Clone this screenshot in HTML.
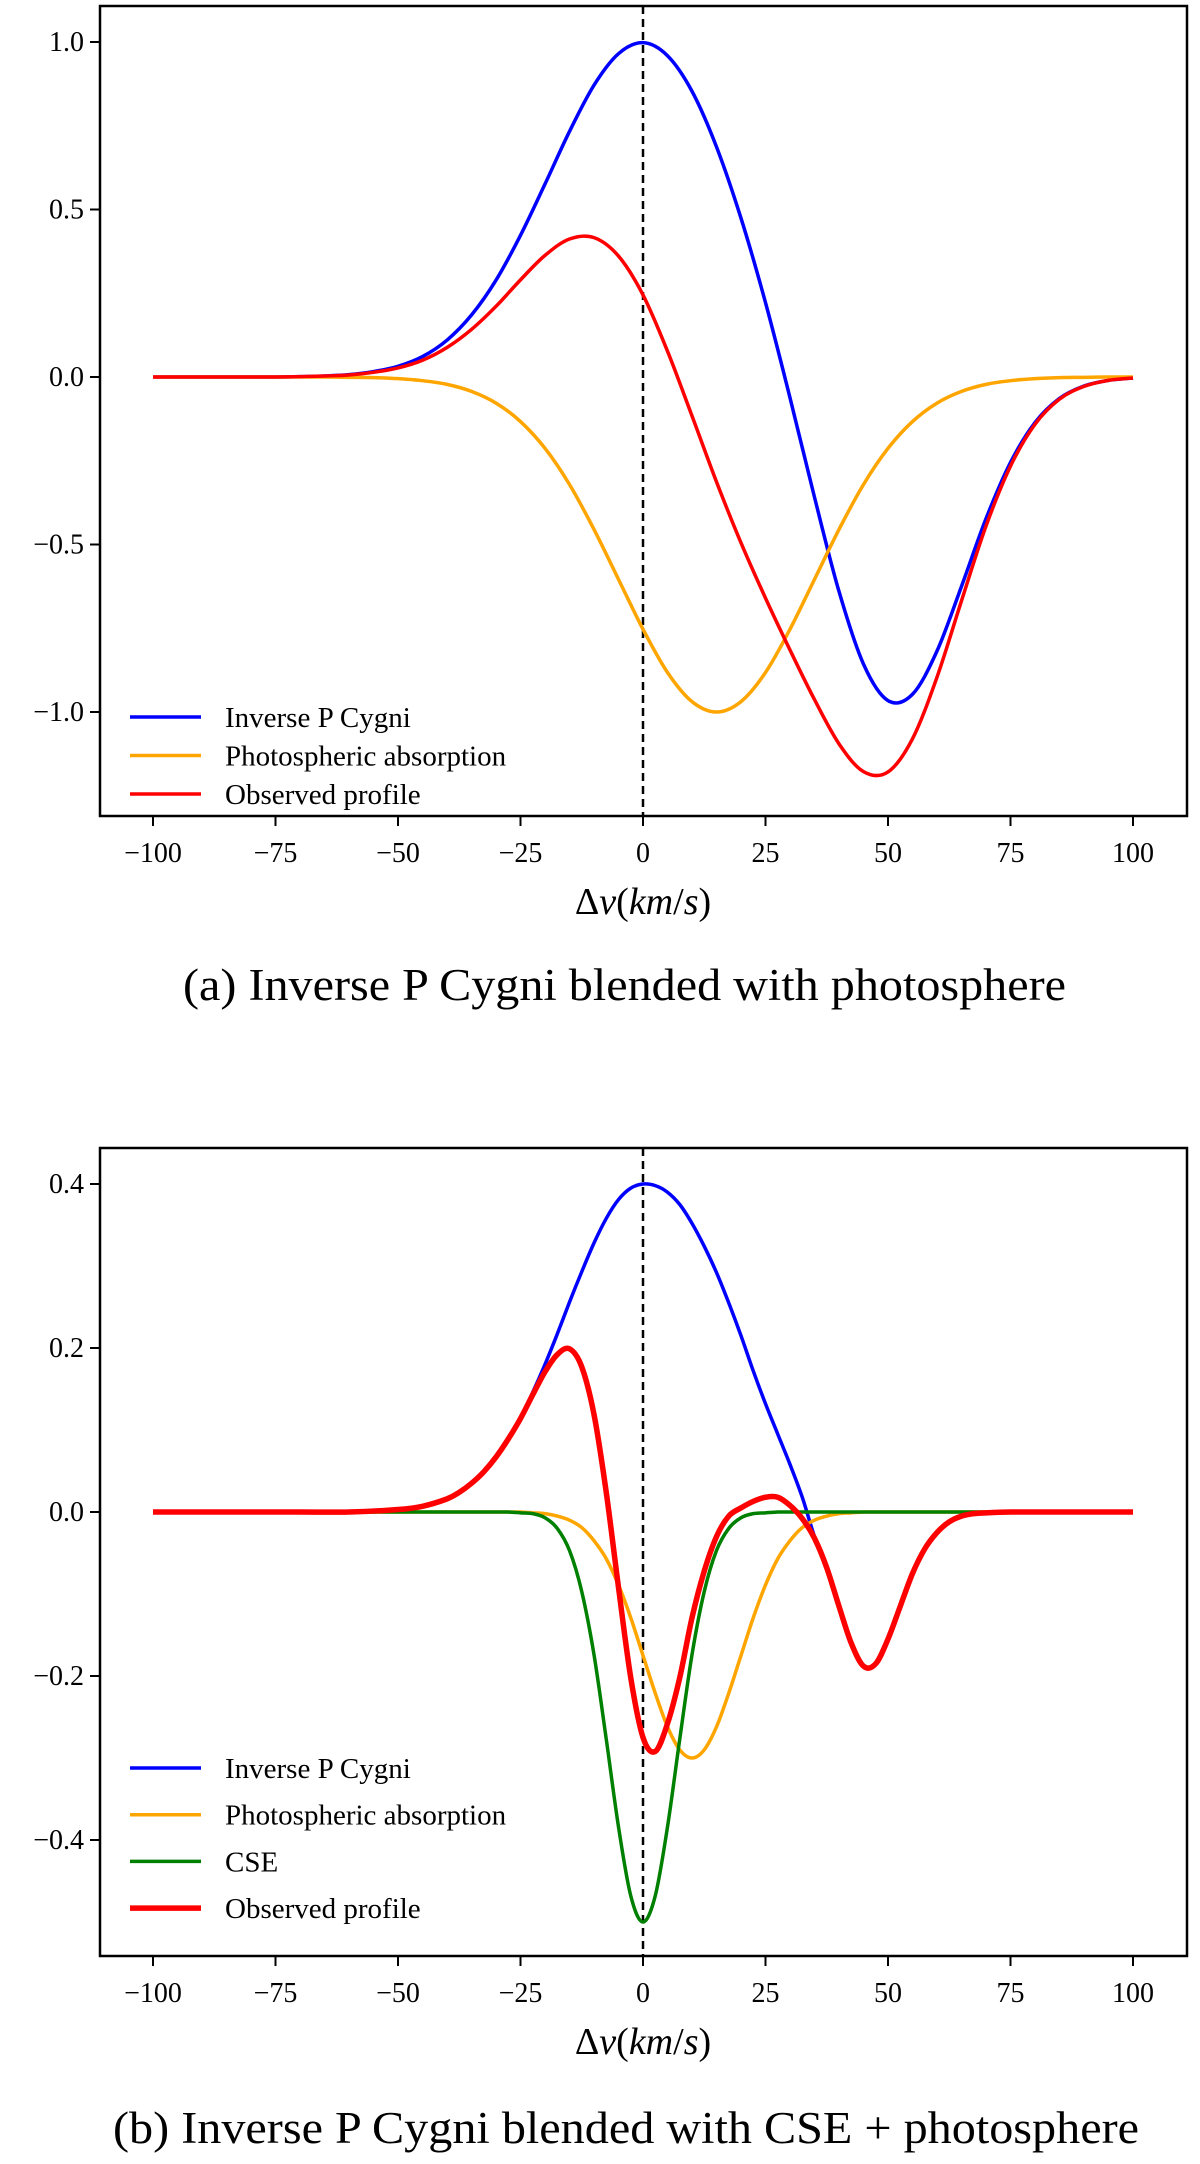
<!DOCTYPE html>
<html><head><meta charset="utf-8"><style>
html,body{margin:0;padding:0;background:#fff;}
svg{display:block;font-family:"Liberation Serif",serif;}
</style></head><body>
<svg id="fig" width="1200" height="2164" viewBox="0 0 1200 2164"></svg>
<script>
// ---- Panel (a) data ----
const xA = [-100,-95,-90,-85,-80,-75,-70,-65,-60,-55,-50,-45,-40,-35,-30,-25,-20,-15,-10,-5,0,5,10,15,20,25,30,35,40,45,50,55,60,65,70,75,80,85,90,95,100];
const blueA = [0,0,0,0,0,0,0.001,0.003,0.007,0.016,0.032,0.061,0.110,0.185,0.289,0.423,0.576,0.733,0.871,0.965,0.998,0.959,0.853,0.687,0.474,0.222,-0.062,-0.359,-0.640,-0.857,-0.966,-0.947,-0.818,-0.625,-0.423,-0.255,-0.136,-0.064,-0.027,-0.010,-0.003];
const orangeA = [0,0,0,0,0,0,0,0,-0.001,-0.002,-0.005,-0.011,-0.022,-0.043,-0.078,-0.133,-0.213,-0.321,-0.455,-0.604,-0.753,-0.882,-0.969,-1.0,-0.969,-0.882,-0.753,-0.604,-0.455,-0.321,-0.213,-0.133,-0.078,-0.043,-0.022,-0.011,-0.005,-0.002,-0.001,0,0];
const redA = [0,0,0,0,0,0,0.001,0.003,0.006,0.014,0.027,0.050,0.088,0.142,0.211,0.290,0.363,0.412,0.416,0.361,0.245,0.077,-0.116,-0.313,-0.495,-0.660,-0.815,-0.963,-1.095,-1.178,-1.179,-1.080,-0.896,-0.668,-0.445,-0.266,-0.141,-0.066,-0.028,-0.010,-0.003];
const yTicksA = [1.0,0.5,0.0,-0.5,-1.0];
const yTickLabelsA = ["1.0","0.5","0.0","\u22120.5","\u22121.0"];
// ---- Panel (b) data ----
const xB = [-100,-90,-80,-70,-60,-50,-45,-40,-37.5,-35,-32.5,-30,-27.5,-25,-22.5,-20,-17.5,-15,-12.5,-10,-7.5,-5,-2.5,0,2.5,5,7.5,10,12.5,15,17.5,20,22.5,25,27.5,30,32.5,35,37.5,40,42.5,45,47.5,50,52.5,55,57.5,60,62.5,65,67.5,70,75,80,90,100];
const blueB = [0,0,0,0,0,0.003,0.007,0.016,0.024,0.035,0.049,0.067,0.089,0.115,0.146,0.180,0.217,0.256,0.293,0.328,0.358,0.381,0.395,0.400,0.398,0.390,0.375,0.352,0.324,0.292,0.255,0.215,0.172,0.132,0.095,0.058,0.018,-0.030,-0.068,-0.115,-0.160,-0.188,-0.185,-0.155,-0.115,-0.075,-0.045,-0.025,-0.012,-0.005,-0.002,-0.001,0,0,0,0];
const orangeB = [0,0,0,0,0,0,0,0,0,0,0,0,0,0,-0.001,-0.002,-0.005,-0.010,-0.019,-0.035,-0.057,-0.089,-0.129,-0.175,-0.221,-0.262,-0.290,-0.300,-0.290,-0.262,-0.221,-0.175,-0.129,-0.089,-0.057,-0.035,-0.019,-0.010,-0.005,-0.002,-0.001,0,0,0,0,0,0,0,0,0,0,0,0,0,0,0];
const greenB = [0,0,0,0,0,0,0,0,0,0,0,0,0,-0.001,-0.002,-0.007,-0.020,-0.047,-0.097,-0.174,-0.277,-0.384,-0.468,-0.500,-0.468,-0.384,-0.277,-0.174,-0.097,-0.047,-0.020,-0.007,-0.002,-0.001,0,0,0,0,0,0,0,0,0,0,0,0,0,0,0,0,0,0,0,0,0,0];
const redB = [0,0,0,0,0,0.003,0.007,0.016,0.024,0.035,0.049,0.067,0.089,0.114,0.143,0.171,0.192,0.199,0.177,0.119,0.024,-0.092,-0.202,-0.275,-0.292,-0.258,-0.202,-0.129,-0.072,-0.030,-0.005,0.005,0.013,0.018,0.018,0.008,-0.008,-0.032,-0.068,-0.115,-0.160,-0.188,-0.185,-0.155,-0.115,-0.075,-0.045,-0.025,-0.012,-0.005,-0.002,-0.001,0,0,0,0];
const yTicksB = [0.4,0.2,0.0,-0.2,-0.4];
const yTickLabelsB = ["0.4","0.2","0.0","\u22120.2","\u22120.4"];
const xTicks = [-100,-75,-50,-25,0,25,50,75,100];
const xTickLabels = ["\u2212100","\u221275","\u221250","\u221225","0","25","50","75","100"];

const NS="http://www.w3.org/2000/svg";
const svg=document.getElementById('fig');
function mk(tag,attrs,parent){const e=document.createElementNS(NS,tag);for(const k in attrs)e.setAttribute(k,attrs[k]);(parent||svg).appendChild(e);return e;}
function smoothPath(xs,ys,X,Y){
  const p=xs.map((x,i)=>[X(x),Y(ys[i])]);
  let d='M'+p[0][0].toFixed(2)+','+p[0][1].toFixed(2);
  for(let i=0;i<p.length-1;i++){
    const p0=p[Math.max(0,i-1)],p1=p[i],p2=p[i+1],p3=p[Math.min(p.length-1,i+2)];
    const c1=[p1[0]+(p2[0]-p0[0])/6,p1[1]+(p2[1]-p0[1])/6];
    const c2=[p2[0]-(p3[0]-p1[0])/6,p2[1]-(p3[1]-p1[1])/6];
    d+=' C'+c1[0].toFixed(2)+','+c1[1].toFixed(2)+' '+c2[0].toFixed(2)+','+c2[1].toFixed(2)+' '+p2[0].toFixed(2)+','+p2[1].toFixed(2);
  }
  return d;
}
function panel(cfg){
  const g=mk('g',{});
  
  
  const X=v=>643+4.9*v;
  const Y=v=>cfg.y0-cfg.ys*v;
  const clipId='clip'+cfg.key;
  const cp=mk('clipPath',{id:clipId},g);
  mk('rect',{x:100,y:cfg.top,width:1087,height:cfg.bottom-cfg.top},cp);
  cfg.yt.forEach((v,i)=>{
    const t=mk('line',{x1:90,x2:100,y1:Y(v),y2:Y(v),stroke:'#000','stroke-width':2},g);
    
    
    const l=mk('text',{x:84,y:Y(v)+9,'text-anchor':'end','font-size':28},g);
    
    
    l.textContent=cfg.ytl[i];
  });
  xTicks.forEach((v,i)=>{
    const t=mk('line',{x1:X(v),x2:X(v),y1:cfg.bottom,y2:cfg.bottom+10,stroke:'#000','stroke-width':2},g);
    
    
    const l=mk('text',{x:X(v),y:cfg.bottom+46,'text-anchor':'middle','font-size':28},g);
    
    
    l.textContent=xTickLabels[i];
  });
  const dl=mk('line',{x1:X(0),x2:X(0),y1:cfg.top,y2:cfg.bottom,stroke:'#000','stroke-width':2.5,'stroke-dasharray':'8,5'},g);
  
  
  cfg.series.forEach(s=>{
    const p=mk('path',{d:smoothPath(cfg.xs,s.data,X,Y),fill:'none',stroke:s.color,'stroke-width':s.w,'stroke-linejoin':'round','clip-path':'url(#'+clipId+')'},g);
    
    
  });
  const fr=mk('rect',{x:100,y:cfg.top,width:1087,height:cfg.bottom-cfg.top,fill:'none',stroke:'#000','stroke-width':2.5},g);
  
  
  const lg=mk('g',{},g);
  
  
  cfg.legend.forEach((e,i)=>{
    const y=cfg.legY+i*cfg.legDy;
    const ln=mk('line',{x1:130,x2:201,y1:y,y2:y,stroke:e.color,'stroke-width':e.w},lg);
    
    
    const t=mk('text',{x:225,y:y+10,'font-size':29},lg);
    
    
    t.textContent=e.label;
  });
  const xt=mk('text',{x:643,y:cfg.bottom+98,'text-anchor':'middle','font-size':38},g);
  
  
  xt.innerHTML='\u0394<tspan font-style="italic">v</tspan>(<tspan font-style="italic">km</tspan>/<tspan font-style="italic">s</tspan>)';
  const cap=mk('text',{x:cfg.capX,y:cfg.capY,'font-size':45,textLength:cfg.capW,lengthAdjust:'spacingAndGlyphs'},g);
  
  
  cap.textContent=cfg.caption;
}
panel({key:'a',name:'panel-a-chart',top:6,bottom:816,y0:377,ys:335,xs:xA,yt:yTicksA,ytl:yTickLabelsA,
  series:[{name:'inverse-p-cygni-line',data:blueA,color:'#0000ff',w:3.5},{name:'photospheric-absorption-line',data:orangeA,color:'#ffa500',w:3.5},{name:'observed-profile-line',data:redA,color:'#ff0000',w:3.5}],
  legend:[{label:'Inverse P Cygni',color:'#0000ff',w:3.5},{label:'Photospheric absorption',color:'#ffa500',w:3.5},{label:'Observed profile',color:'#ff0000',w:3.5}],
  legY:717,legDy:38.5,caption:'(a) Inverse P Cygni blended with photosphere',capX:183,capY:1000,capW:883});
panel({key:'b',name:'panel-b-chart',top:1148,bottom:1956,y0:1512,ys:820,xs:xB,yt:yTicksB,ytl:yTickLabelsB,
  series:[{name:'inverse-p-cygni-line',data:blueB,color:'#0000ff',w:3.5},{name:'photospheric-absorption-line',data:orangeB,color:'#ffa500',w:3.5},{name:'cse-line',data:greenB,color:'#008000',w:3.5},{name:'observed-profile-line',data:redB,color:'#ff0000',w:5.5}],
  legend:[{label:'Inverse P Cygni',color:'#0000ff',w:3.5},{label:'Photospheric absorption',color:'#ffa500',w:3.5},{label:'CSE',color:'#008000',w:3.5},{label:'Observed profile',color:'#ff0000',w:5.5}],
  legY:1768,legDy:46.7,caption:'(b) Inverse P Cygni blended with CSE + photosphere',capX:113,capY:2143,capW:1026});
</script>
</body></html>
